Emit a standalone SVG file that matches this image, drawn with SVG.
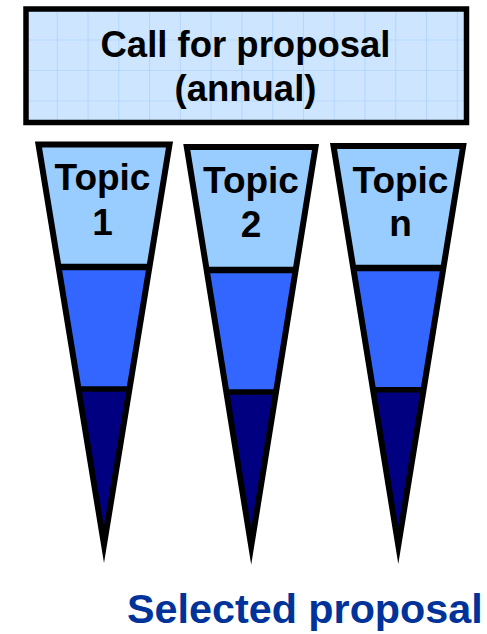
<svg xmlns="http://www.w3.org/2000/svg" width="487" height="634" viewBox="0 0 487 634">
  <defs>
    <pattern id="grid" patternUnits="userSpaceOnUse" x="26" y="9" width="30.77" height="30.5">
      <rect width="30.77" height="30.5" fill="#CDE5FF"/>
      <path d="M0 0 V30.5 M0 0 H30.77" stroke="#A3CDFF" stroke-width="1.2" fill="none"/>
    </pattern>
  </defs>
  <style>
    .lbl { font-family: "Liberation Sans", Arial, sans-serif; font-weight: bold; font-size: 36.5px; fill: #000; text-anchor: middle; }
    .tp { font-size: 37px; }
    .sel { font-family: "Liberation Sans", Arial, sans-serif; font-weight: bold; font-size: 41.3px; fill: #003399; }
    .light { fill: #99CCFF; }
    .mid { fill: #3366FF; }
    .dark { fill: #000080; }
    .outline { fill: none; stroke: #000; stroke-width: 6; stroke-linejoin: miter; stroke-miterlimit: 10; }
    .div1 { stroke: #000; stroke-width: 6.5; }
    .div2 { stroke: #000; stroke-width: 5.5; }
  </style>

  <g id="call">
    <rect x="26" y="9" width="440.5" height="113.5" fill="url(#grid)" stroke="#000" stroke-width="5.5"/>
    <text class="lbl" x="245.5" y="56.5">Call for proposal</text>
    <text class="lbl" x="245.5" y="101">(annual)</text>
  </g>

  <g id="topic1">
    <polygon class="light" points="38.5,144.5 169.5,144.5 149.43,267 58.57,267"/>
    <polygon class="mid" points="58.57,267 149.43,267 129.45,389 78.55,389"/>
    <polygon class="dark" points="78.55,389 129.45,389 104,544.5"/>
    <line class="div1" x1="57" y1="267" x2="151" y2="267"/>
    <line class="div2" x1="77" y1="389" x2="131" y2="389"/>
    <polygon class="outline" points="38.5,144.5 169.5,144.5 104,544.5"/>
    <text class="lbl tp" x="102.5" y="190">Topic</text>
    <text class="lbl tp" x="102.5" y="235">1</text>
  </g>

  <g id="topic2">
    <polygon class="light" points="186.8,147 315.5,147 295.65,270 206.65,270"/>
    <polygon class="mid" points="206.65,270 295.65,270 275.96,392 226.34,392"/>
    <polygon class="dark" points="226.34,392 275.96,392 251.2,546"/>
    <line class="div1" x1="205" y1="270" x2="297" y2="270"/>
    <line class="div2" x1="225" y1="392" x2="277.5" y2="392"/>
    <polygon class="outline" points="186.8,147 315.5,147 251.2,546"/>
    <text class="lbl tp" x="251" y="193">Topic</text>
    <text class="lbl tp" x="251" y="237">2</text>
  </g>

  <g id="topicn">
    <polygon class="light" points="333.5,146 463.2,146 443.41,268 353.29,268"/>
    <polygon class="mid" points="353.29,268 443.41,268 423.67,389.7 373.03,389.7"/>
    <polygon class="dark" points="373.03,389.7 423.67,389.7 398.3,545.4"/>
    <line class="div1" x1="352" y1="268" x2="445" y2="268"/>
    <line class="div2" x1="371.5" y1="389.7" x2="425" y2="389.7"/>
    <polygon class="outline" points="333.5,146 463.2,146 398.3,545.4"/>
    <text class="lbl tp" x="400.5" y="192.5">Topic</text>
    <text class="lbl tp" x="400.5" y="236">n</text>
  </g>

  <g id="selected">
    <text class="sel" x="127" y="623">Selected proposal</text>
  </g>

  <g id="connectors"/>
</svg>
